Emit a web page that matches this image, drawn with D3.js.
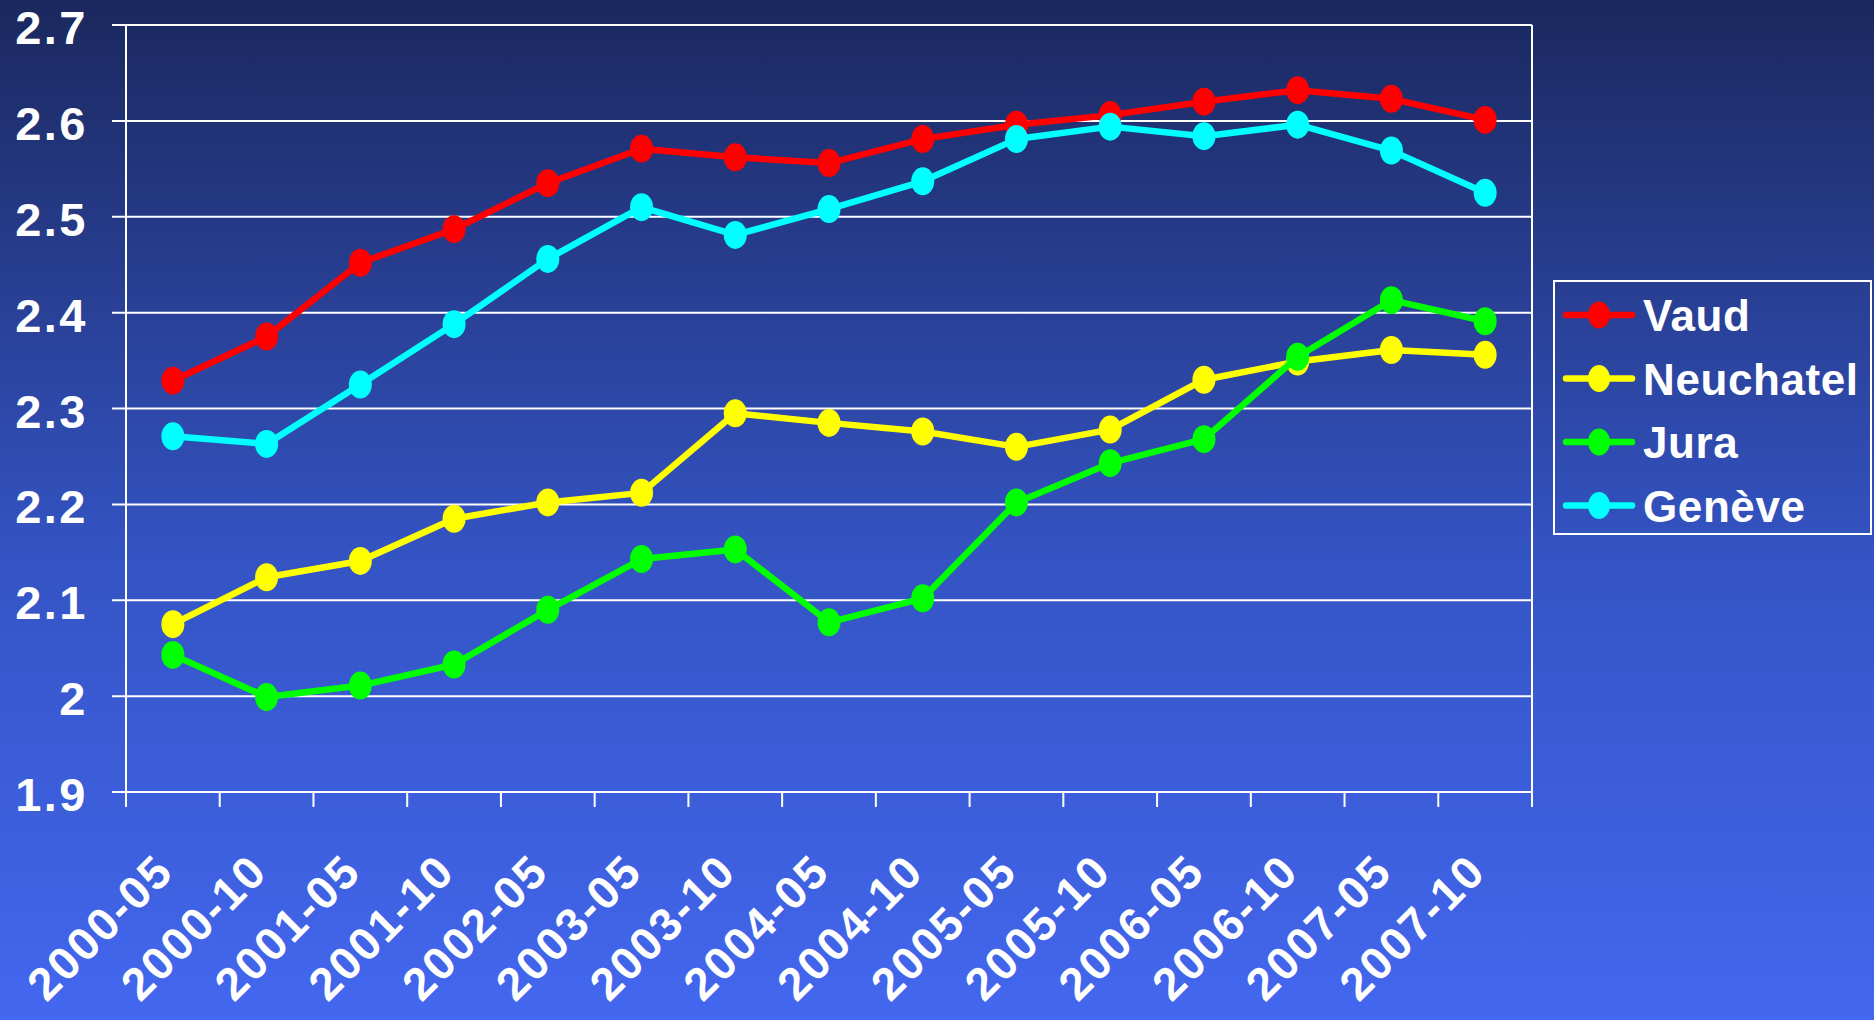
<!DOCTYPE html>
<html>
<head>
<meta charset="utf-8">
<script src="https://cdn.jsdelivr.net/npm/d3@7"></script>
<style>
  html, body { margin: 0; padding: 0; }
  body { width: 1874px; height: 1020px; overflow: hidden; }
  text { font-family: "Liberation Sans", Arial, sans-serif; font-weight: bold; fill: #fff; }
</style>
</head>
<body>
<div id="chart"></div>
<script>
// data
const categories = ['2000-05', '2000-10', '2001-05', '2001-10', '2002-05', '2003-05', '2003-10',
    '2004-05', '2004-10', '2005-05', '2005-10', '2006-05', '2006-10', '2007-05', '2007-10'];
const vaud = [2.329, 2.375, 2.452, 2.487, 2.535, 2.571, 2.562, 2.556, 2.581, 2.596, 2.606, 2.620, 2.632, 2.623, 2.601];
const neuchatel = [2.075, 2.124, 2.141, 2.185, 2.202, 2.212, 2.295, 2.285, 2.276, 2.260, 2.278, 2.330, 2.349, 2.361, 2.356];
const jura = [2.043, 1.999, 2.011, 2.033, 2.090, 2.143, 2.153, 2.077, 2.102, 2.202, 2.243, 2.268, 2.354, 2.413, 2.391];
const geneve = [2.271, 2.263, 2.325, 2.388, 2.456, 2.510, 2.481, 2.508, 2.537, 2.581, 2.594, 2.584, 2.596, 2.569, 2.525];
const seriesNames = ['Vaud', 'Neuchatel', 'Jura', 'Genève'];
const seriesColors = ['#ff0000', '#ffff00', '#00ff00', '#00ffff'];
const yTicks = [1.9, 2, 2.1, 2.2, 2.3, 2.4, 2.5, 2.6, 2.7];

const series = [vaud, neuchatel, jura, geneve].map((values, i) => ({
    name: seriesNames[i],
    color: seriesColors[i],
    values: values
}));

const W = 1874, H = 1020;
const plot = { left: 126, right: 1532, top: 25, bottom: 792 };

const svg = d3.select('#chart').append('svg')
    .attr('width', W)
    .attr('height', H);

// background gradient
const grad = svg.append('defs').append('linearGradient')
    .attr('id', 'bg')
    .attr('x1', 0).attr('y1', 0).attr('x2', 0).attr('y2', 1);
grad.append('stop').attr('offset', '0%').attr('stop-color', '#1b285e');
grad.append('stop').attr('offset', '55%').attr('stop-color', '#3454c4');
grad.append('stop').attr('offset', '100%').attr('stop-color', '#4367ef');
svg.append('rect').attr('width', W).attr('height', H).attr('fill', 'url(#bg)');

const x = d3.scaleBand()
    .domain(categories)
    .range([plot.left, plot.right]);

const y = d3.scaleLinear()
    .domain([1.9, 2.7])
    .range([plot.bottom, plot.top]);

// gridlines with ticks sticking out to the left
svg.append('g')
    .selectAll('line')
    .data(yTicks)
    .enter()
    .append('line')
    .attr('x1', plot.left - 14)
    .attr('x2', plot.right)
    .attr('y1', d => y(d))
    .attr('y2', d => y(d))
    .attr('stroke', '#fff')
    .attr('stroke-width', 2);

// y labels
svg.append('g')
    .selectAll('text')
    .data(yTicks)
    .enter()
    .append('text')
    .attr('x', 88)
    .attr('y', d => y(d) + 19)
    .attr('text-anchor', 'end')
    .attr('font-size', 47)
    .attr('letter-spacing', 2.5)
    .text(d => d3.format('.1~f')(d));

// frame: left and right edges
svg.append('line')
    .attr('x1', plot.left).attr('x2', plot.left)
    .attr('y1', plot.top).attr('y2', plot.bottom + 15)
    .attr('stroke', '#fff').attr('stroke-width', 2);
svg.append('line')
    .attr('x1', plot.right).attr('x2', plot.right)
    .attr('y1', plot.top).attr('y2', plot.bottom + 15)
    .attr('stroke', '#fff').attr('stroke-width', 2);

// x ticks at band edges
const edges = categories.map(c => x(c)).concat([plot.right]);
svg.append('g')
    .selectAll('line')
    .data(edges)
    .enter()
    .append('line')
    .attr('x1', d => d).attr('x2', d => d)
    .attr('y1', plot.bottom)
    .attr('y2', plot.bottom + 15)
    .attr('stroke', '#fff')
    .attr('stroke-width', 2);

// x labels, rotated
svg.append('g')
    .selectAll('text')
    .data(categories)
    .enter()
    .append('text')
    .attr('text-anchor', 'end')
    .attr('font-size', 46)
    .attr('letter-spacing', 2)
    .attr('transform', d => `translate(${x(d) + x.bandwidth() / 2 + 3},${874}) rotate(-45)`)
    .text(d => d);

// lines + markers
const line = d3.line()
    .x((d, i) => x(categories[i]) + x.bandwidth() / 2)
    .y(d => y(d));

const groups = svg.append('g')
    .selectAll('g')
    .data(series)
    .enter()
    .append('g');

groups.append('path')
    .attr('d', d => line(d.values))
    .attr('fill', 'none')
    .attr('stroke', d => d.color)
    .attr('stroke-width', 6.5)
    .attr('stroke-linejoin', 'round');

groups.each(function(s) {
    d3.select(this).selectAll('ellipse')
        .data(s.values)
        .enter()
        .append('ellipse')
        .attr('cx', (d, i) => x(categories[i]) + x.bandwidth() / 2)
        .attr('cy', d => y(d))
        .attr('rx', 11.5)
        .attr('ry', 14)
        .attr('fill', s.color);
});

// legend
const legend = svg.append('g');
legend.append('rect')
    .attr('x', 1554).attr('y', 281)
    .attr('width', 317).attr('height', 253)
    .attr('fill', 'none')
    .attr('stroke', '#fff')
    .attr('stroke-width', 2);

const rows = legend.selectAll('g')
    .data(series)
    .enter()
    .append('g')
    .attr('transform', (d, i) => `translate(0,${315 + i * 63.5})`);

rows.append('line')
    .attr('x1', 1566).attr('x2', 1632)
    .attr('stroke', d => d.color)
    .attr('stroke-width', 6.5)
    .attr('stroke-linecap', 'round');
rows.append('ellipse')
    .attr('cx', 1599)
    .attr('rx', 11).attr('ry', 13.5)
    .attr('fill', d => d.color);
rows.append('text')
    .attr('x', 1643)
    .attr('y', 16)
    .attr('font-size', 44)
    .attr('letter-spacing', 0.6)
    .text(d => d.name);
</script>
</body>
</html>
